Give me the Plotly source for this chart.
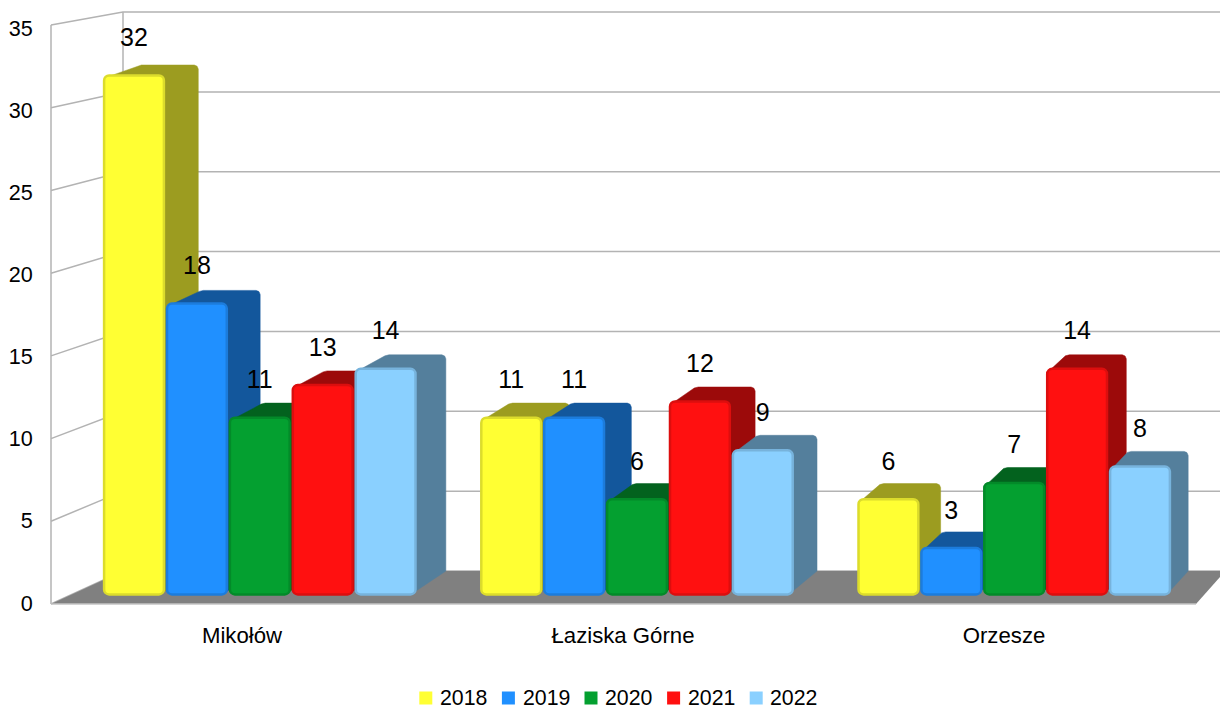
import plotly.graph_objects as go

categories = ["Mikołów", "Łaziska Górne", "Orzesze"]
years = ["2018", "2019", "2020", "2021", "2022"]
v2018 = [32, 11, 6]
v2019 = [18, 11, 3]
v2020 = [11, 6, 7]
v2021 = [13, 12, 14]
v2022 = [14, 9, 8]
y_ticks = [0, 5, 10, 15, 20, 25, 30, 35]

series = [v2018, v2019, v2020, v2021, v2022]
front = ["#ffff33", "#2090ff", "#04a030", "#ff1010", "#8ad0ff"]
edge = ["#dcdc2c", "#1c7cdc", "#038a29", "#dc0e0e", "#77b3dc"]
side = ["#9c9c20", "#13579c", "#03621e", "#9c0a0a", "#547f9c"]

W, H = 1220, 710
DOM_L, DOM_B = 45, 612
GROUP0, GROUP_STEP = 259.8, 377.2
SLOT, BAR_W = 62.9, 59.8
TICK0, TICK_SCALE = 603.0, 16.43
BAR0, BAR_SCALE = 597.0, 16.3
BAR_FLOOR = 0.16
BACK_L, BACK0, BACK_SCALE = 123.0, 571.0, 15.97
WALL_L, WALL0, WALL_SCALE = 51.0, 604.0, 16.54
CH = 4.0
LEG_X, LEG_STEP, LEG_Y, LEG_BOX = 419.3, 82.6, 698.0, 13.0


def xd(px):
    return (px - GROUP0) / GROUP_STEP


def yd(py):
    return (TICK0 - py) / TICK_SCALE


x_range = [xd(DOM_L), xd(W)]
y_range = [yd(DOM_B), yd(0)]
y2_range = [(BAR0 - DOM_B) / BAR_SCALE, BAR0 / BAR_SCALE]

fig = go.Figure()
GRID = "#b3b3b3"


def line(xs, ys, color=GRID, width=1.5):
    fig.add_trace(go.Scatter(x=[xd(p) for p in xs], y=[yd(p) for p in ys], mode="lines",
                             line=dict(color=color, width=width), hoverinfo="skip",
                             showlegend=False, cliponaxis=False))


# back and left walls
for t in y_ticks:
    by = BACK0 - t * BACK_SCALE
    wy = WALL0 - t * WALL_SCALE
    line([WALL_L, BACK_L, W], [wy, by, by])
line([WALL_L, WALL_L], [WALL0, WALL0 - 35 * WALL_SCALE])
line([BACK_L, BACK_L], [BACK0, BACK0 - 35 * BACK_SCALE])

# floor
fig.add_trace(go.Scatter(x=[xd(p) for p in [WALL_L, BACK_L, W, W, 1196, WALL_L]],
                         y=[yd(p) for p in [WALL0, BACK0, BACK0, 577, WALL0, WALL0]],
                         mode="lines", fill="toself", fillcolor="#808080",
                         line=dict(color="#808080", width=0), hoverinfo="skip",
                         showlegend=False))
line([WALL_L, 1196], [WALL0, WALL0], color="#c4c4c4", width=1.5)

# side and top faces of every bar, computed from its value
for c in range(len(categories)):
    for s, vals in enumerate(series):
        v = vals[c]
        cx = GROUP0 + c * GROUP_STEP + (s - 2) * SLOT
        l, r = cx - BAR_W / 2, cx + BAR_W / 2
        top = BAR0 - v * BAR_SCALE
        dy = 16.8 - 0.2 * v
        dxr = 37.0 - 0.016 * r
        dxl = 37.0 - 0.016 * l
        bx, by = r + dxr, top - dy
        xs = [l + 2, l + dxl - 2, l + dxl + 2, bx - CH, bx - CH * 0.3, bx, bx, r - 1, r - 1, l + 2]
        ys = [top + 2, by + 1, by, by, by + CH * 0.3, by + CH, 571, 592, top + 2, top + 2]
        fig.add_trace(go.Scatter(x=[xd(p) for p in xs], y=[yd(p) for p in ys], mode="lines",
                                 fill="toself", fillcolor=side[s],
                                 line=dict(color=side[s], width=0.5), hoverinfo="skip",
                                 showlegend=False))

# front faces
for s, vals in enumerate(series):
    fig.add_trace(go.Bar(x=list(range(len(categories))), showlegend=False, name=years[s],
                         y=[v - BAR_FLOOR for v in vals], base=BAR_FLOOR, yaxis="y2",
                         marker=dict(color=front[s], line=dict(color=edge[s], width=2.5)),
                         hoverinfo="skip"))

# value labels
for s, vals in enumerate(series):
    fig.add_trace(go.Scatter(x=[c + (s - 2) * SLOT / GROUP_STEP for c in range(len(categories))],
                             y=[v + 2.19 for v in vals], yaxis="y2", mode="text",
                             text=[str(v) for v in vals], textposition="middle center",
                             textfont=dict(family="Liberation Sans", size=25, color="#000000"),
                             hoverinfo="skip", showlegend=False, cliponaxis=False))

# legend row
shapes, notes = [], []
for s, year in enumerate(years):
    x0 = LEG_X + s * LEG_STEP
    shapes.append(dict(type="rect", xref="paper", yref="paper", layer="above",
                       x0=x0 / W, x1=(x0 + LEG_BOX) / W,
                       y0=1 - (LEG_Y + LEG_BOX / 2) / H,
                       y1=1 - (LEG_Y - LEG_BOX / 2) / H,
                       fillcolor=front[s], line=dict(width=0)))
    notes.append(dict(xref="paper", yref="paper", x=(x0 + 18.7) / W,
                      y=1 - LEG_Y / H, xanchor="left", yanchor="middle",
                      text=year, showarrow=False, font=dict(size=21.3)))

label_px = [242, 623, 1004]
fig.update_layout(
    width=W, height=H, margin=dict(l=0, r=0, t=0, b=0, autoexpand=False),
    paper_bgcolor="#ffffff", plot_bgcolor="#ffffff", showlegend=False,
    shapes=shapes, annotations=notes,
    barmode="group", bargap=1 - 5 * SLOT / GROUP_STEP, bargroupgap=1 - BAR_W / SLOT, barcornerradius=5,
    font=dict(family="Liberation Sans", size=21.6, color="#000000"),
    xaxis=dict(domain=[DOM_L / W, 1], range=x_range, tickmode="array",
               tickvals=[xd(p) for p in label_px], ticktext=categories,
               tickfont=dict(size=22.2),
               showgrid=False, zeroline=False, showline=False,
               ticks="outside", ticklen=3, tickcolor="rgba(0,0,0,0)"),
    yaxis=dict(domain=[(H - DOM_B) / H, 1], range=y_range, tickmode="array",
               tickvals=y_ticks, showgrid=False, zeroline=False, showline=False,
               ticks="outside", ticklen=7, tickcolor="rgba(0,0,0,0)"),
    yaxis2=dict(domain=[(H - DOM_B) / H, 1], range=y2_range, overlaying="y", visible=False),
)

fig.write_html("out.html", config=dict(displayModeBar=False),
               post_script="document.body.style.margin='0';document.body.style.overflow='hidden';")
